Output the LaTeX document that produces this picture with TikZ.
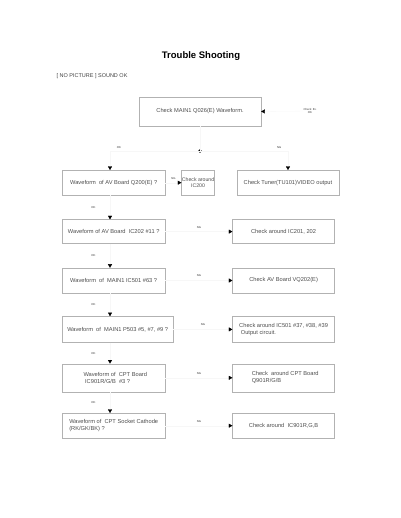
\documentclass[tikz,border=0pt]{standalone}
\usepackage{fontspec}
\setmainfont{Liberation Sans}
\usetikzlibrary{arrows.meta,positioning}

\begin{document}
\begin{tikzpicture}[
  x=1pt, y=-1pt,
  >={Triangle[length=3.6pt,width=4pt,color=black]},
  font=\fontsize{5.7}{6.8}\selectfont,
  B/.style={draw=black!30, line width=0.4pt, text=black!70,
            minimum width=#1, minimum height=25pt, inner sep=1.5pt, align=left},
  B/.default=103pt,
  lnk/.style={->, draw=black!3, line width=0.3pt},
  wire/.style={draw=black!3, line width=0.3pt},
  tag/.style={font=\fontsize{2.8}{3.2}\selectfont, text=black!80, inner sep=0.4pt},
]
\useasboundingbox (0,0) rectangle (400,518);

\node[font=\bfseries\fontsize{9.5}{11}\selectfont] (title) at (201,56) {Trouble Shooting};
\node[anchor=west, font=\fontsize{5.5}{6.5}\selectfont, text=black!75] (case)
      at (53,76) {[ NO PICTURE ] SOUND OK};

% start
\node[B=122pt, minimum height=29pt] (q026) at (200,111.5)
      {Check MAIN1 Q026(E) Waveform.};
\node[tag, align=center] (pwr) at (310,111) {Check \ B+\\OK};
\draw[lnk] (pwr) -- (q026.east);

\coordinate (sp) at (200,151);
\coordinate (col) at (110,0);
\fill (sp) circle (1.8pt);
\draw[wire] (q026) -- (sp);

% row 1
\node[B, anchor=north west] (wv1) at (62,170)
      {Waveform \ of AV Board Q200(E) ?};
\node[B=29pt, align=center, inner sep=0.3pt, right=16pt of wv1,
      font=\fontsize{5.2}{6.4}\selectfont] (ic200)
      {Check around\\IC200};
\node[B=102pt, align=center, right=22pt of ic200] (tuner)
      {Check Tuner(TU101)VIDEO output};

\draw[lnk] (sp) -| node[tag, pos=0.45, above=2pt]{OK} (wv1.north -| col);
\draw[lnk] (sp) -| node[tag, pos=0.45, above=2pt]{NG} (tuner.north);
\draw[lnk] (wv1) -- node[tag, above=3pt]{NG} (ic200);

% rows 2-6
\node[B, minimum height=24pt, below right=24pt and 0pt of wv1.south west] (wv2)
      {Waveform of AV Board \ IC202 \#11 ?};
\node[B, minimum height=25pt, below right=24pt and 0pt of wv2.south west] (wv3)
      {Waveform \ of \ MAIN1 IC501 \#63 ?};
\node[B=111pt, minimum height=26pt, below right=23pt and 0pt of wv3.south west] (wv4)
      {Waveform \ of \ MAIN1 P503 \#5, \#7, \#9 ?};
\node[B, minimum height=28pt, below right=21pt and 0pt of wv4.south west] (wv5)
      {\ \ Waveform of \ CPT Board\\\ \ \ IC901R/G/B \ \#3 ?};
\node[B, minimum height=25pt, below right=21pt and 0pt of wv5.south west] (wv6)
      {Waveform of \ CPT Socket Cathode\\(RK/GK/BK) ?};

\node[B=102pt, minimum height=24pt, align=center, right=67pt of wv2] (chk2)
      {Check around IC201, 202};
\node[B=102pt, align=center, right=67pt of wv3] (chk3)
      {Check AV Board VQ202(E)};
\node[B=102pt, minimum height=26pt, right=59pt of wv4] (chk4)
      {Check around IC501 \#37, \#38, \#39\\\ Output circuit.};
\node[B=102pt, minimum height=28pt, right=67pt of wv5] (chk5)
      {\ \ Check \ around CPT Board\\\ \ Q901R/G/B};
\node[B=102pt, align=center, right=67pt of wv6] (chk6)
      {Check around \ IC901R,G,B};

\foreach \i/\j in {1/2,2/3,3/4,4/5,5/6}
  \draw[lnk] (wv\i.south -| col) -- node[tag, left=14pt]{OK}
             (wv\j.north -| col);
\foreach \i in {2,...,6}
  \draw[lnk] (wv\i) -- node[tag, above=3pt]{NG} (chk\i);

\end{tikzpicture}
\end{document}
